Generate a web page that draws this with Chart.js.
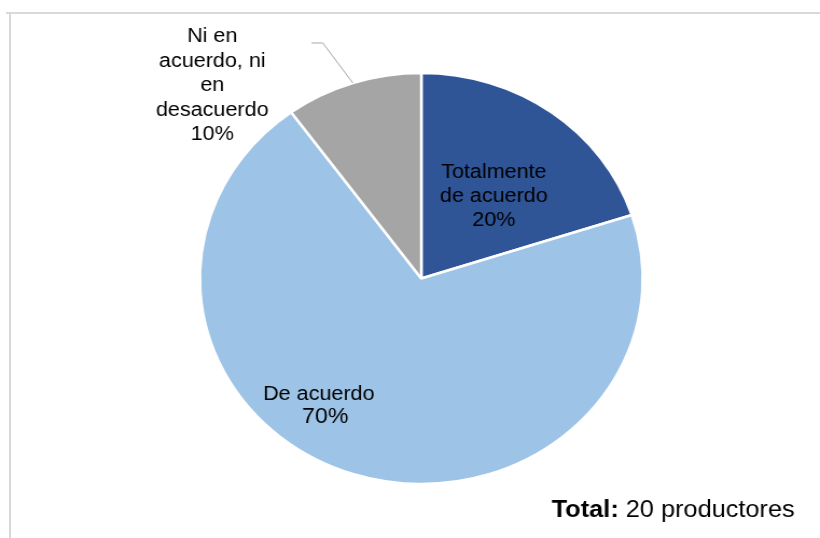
<!DOCTYPE html>
<html>
<head>
<meta charset="utf-8">
<script src="https://cdn.jsdelivr.net/npm/chart.js@4/dist/chart.umd.min.js"></script>
<style>
  html, body { margin: 0; padding: 0; background: #ffffff; }
  #page { position: relative; width: 820px; height: 538px; overflow: hidden; background: #ffffff; }
  #topline { position: absolute; left: 6px; top: 12px; width: 814px; height: 2px; background: #d9d9d9; }
  #leftline { position: absolute; left: 9px; top: 12px; width: 2px; height: 526px; background: #d9d9d9; }
  #wrap { position: absolute; left: 0; top: 0; width: 761px; height: 538px; transform: scaleX(1.0775); transform-origin: 0 0; }
</style>
</head>
<body>
<div id="page">
  <div id="topline"></div>
  <div id="leftline"></div>
  <div id="wrap"><canvas id="c"></canvas></div>
</div>
<script>
// ---- data ----
const categories = ["Totalmente de acuerdo", "De acuerdo", "Ni en acuerdo, ni en desacuerdo"];
const percentValues = [20, 70, 10];
const labelLines = [
  ["Totalmente", "de acuerdo", "20%"],
  ["De acuerdo", "70%"],
  ["Ni en", "acuerdo, ni", "en", "desacuerdo", "10%"]
];
const sliceColors = ["#2F5597", "#9DC3E6", "#A5A5A5"];
const totalBold = "Total:";
const totalText = " 20 productores";

// label placement relative to pie centre, as fractions of radius (canvas coords)
const labelOffsets = [
  { dx: 0.3275, dy: -0.397, lh: 24, lastSize: 20, lastShift: 0 },
  { dx: -0.463, dy: 0.618, lh: 23, lastSize: 21.5, lastShift: 6 },
  { dx: -0.944, dy: -0.938, lh: 24.5, lastSize: 20, lastShift: 0 }
];

const labelPlugin = {
  id: 'labelPlugin',
  afterDatasetsDraw(chart) {
    const ctx = chart.ctx;
    const meta = chart.getDatasetMeta(0);
    ctx.save();
    ctx.fillStyle = '#000000';
    ctx.textAlign = 'center';
    ctx.textBaseline = 'middle';
    meta.data.forEach((arc, i) => {
      const r = arc.outerRadius;
      const off = labelOffsets[i];
      const cx = arc.x + off.dx * r;
      const cy = arc.y + off.dy * r;
      const lines = labelLines[i];
      const n = lines.length;
      lines.forEach((t, k) => {
        const last = k === n - 1;
        ctx.font = (last ? off.lastSize : 20) + 'px "Liberation Sans", Arial, sans-serif';
        ctx.fillText(t, cx + (last ? off.lastShift : 0), cy + (k - (n - 1) / 2) * off.lh);
      });
    });
    // leader line for the small grey slice
    const g = meta.data[2];
    const mid = (g.startAngle + g.endAngle) / 2;
    const ex = g.x + Math.cos(mid) * g.outerRadius;
    const ey = g.y + Math.sin(mid) * g.outerRadius;
    const r = g.outerRadius;
    ctx.strokeStyle = '#a6a6a6';
    ctx.lineWidth = 1;
    ctx.beginPath();
    ctx.moveTo(g.x - 0.4954 * r, g.y - 1.146 * r);
    ctx.lineTo(g.x - 0.4448 * r, g.y - 1.146 * r);
    ctx.lineTo(ex, ey);
    ctx.stroke();
    // total text
    ctx.textAlign = 'left';
    ctx.textBaseline = 'alphabetic';
    ctx.font = 'bold 23.5px "Liberation Sans", Arial, sans-serif';
    const x0 = 512;
    ctx.fillText(totalBold, x0, 517);
    const w = ctx.measureText(totalBold).width;
    ctx.font = '23.5px "Liberation Sans", Arial, sans-serif';
    ctx.fillText(totalText, x0 + w, 517);
    ctx.restore();
  }
};

new Chart(document.getElementById('c'), {
  type: 'pie',
  data: {
    labels: categories,
    datasets: [{
      data: percentValues,
      backgroundColor: sliceColors,
      borderColor: '#ffffff',
      borderWidth: 2.5,
      radius: 205.5
    }]
  },
  options: {
    responsive: true,
    maintainAspectRatio: false,
    animation: false,
    events: [],
    layout: { padding: { left: 21, right: 0, top: 73, bottom: 54 } },
    plugins: {
      legend: { display: false },
      title: { display: false },
      tooltip: { enabled: false }
    }
  },
  plugins: [labelPlugin]
});
</script>
</body>
</html>
